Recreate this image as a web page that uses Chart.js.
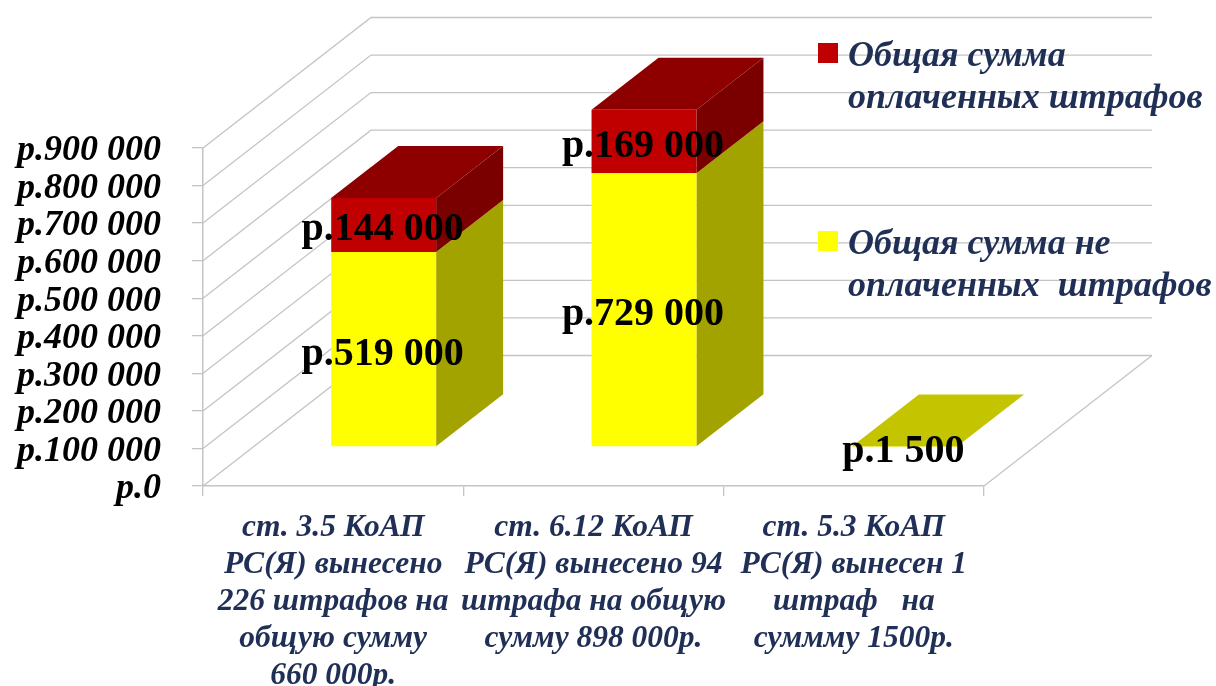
<!DOCTYPE html>
<html>
<head>
<meta charset="utf-8">
<title>Штрафы</title>
<script src="https://cdn.jsdelivr.net/npm/chart.js@4"></script>
<style>
    html, body { margin: 0; padding: 0; background: #fff; overflow: hidden; }
    #wrap { width: 1216px; height: 686px; }
</style>
</head>
<body>
<div id="wrap"><canvas id="chart" width="1216" height="686"></canvas></div>
<script>
const categories = [
    ['ст. 3.5 КоАП', 'РС(Я) вынесено', '226 штрафов на', 'общую сумму', '660 000р.'],
    ['ст. 6.12 КоАП', 'РС(Я) вынесено 94', 'штрафа на общую', 'сумму 898 000р.'],
    ['ст. 5.3 КоАП', 'РС(Я) вынесен 1', 'штраф   на', 'суммму 1500р.']
];
const unpaid = [519000, 729000, 1500];
const paid = [144000, 169000, 0];
const paidLegend = ['Общая сумма', 'оплаченных штрафов'];
const unpaidLegend = ['Общая сумма не', 'оплаченных  штрафов'];
const yTickLabels = ['р.0', 'р.100 000', 'р.200 000', 'р.300 000', 'р.400 000', 'р.500 000',
    'р.600 000', 'р.700 000', 'р.800 000', 'р.900 000'];

const SERIF = '"Liberation Serif", "Times New Roman", serif';
const NAVY = '#1f2f55';
const GRID = '#c4c4c4';

// wall depth and bar depth of the fake 3D box
const WALL = { dx: 168, dy: -130.5 };
const BAR_SHIFT = { dx: 50.5, dy: -39 };
const BAR_DEPTH = { dx: 67, dy: -52 };

function formatRub(n) {
    return 'р.' + n.toString().replace(/\B(?=(\d{3})+$)/g, ' ');
}

function poly(ctx, points, color) {
    ctx.fillStyle = color;
    ctx.beginPath();
    points.forEach((p, i) => i ? ctx.lineTo(p[0], p[1]) : ctx.moveTo(p[0], p[1]));
    ctx.closePath();
    ctx.fill();
}

function drawWalls(chart) {
    const ctx = chart.ctx;
    const area = chart.chartArea;
    const y = chart.scales.y;
    ctx.save();
    ctx.strokeStyle = GRID;
    ctx.lineWidth = 1.3;
    y.ticks.forEach(t => {
        const py = y.getPixelForValue(t.value);
        ctx.beginPath();
        ctx.moveTo(area.left, py);
        ctx.lineTo(area.left + WALL.dx, py + WALL.dy);
        ctx.lineTo(area.right + WALL.dx, py + WALL.dy);
        ctx.stroke();
    });
    ctx.beginPath();
    ctx.moveTo(area.right + WALL.dx, area.bottom + WALL.dy);
    ctx.lineTo(area.right, area.bottom);
    ctx.stroke();
    ctx.restore();
}

function drawBarSides(chart) {
    const ctx = chart.ctx;
    const stacks = chart.data.datasets.length;
    chart.data.datasets.forEach((ds, i) => {
        chart.getDatasetMeta(i).data.forEach((bar, j) => {
            if (!ds.data[j]) return;
            const right = bar.x + bar.width / 2;
            const left = bar.x - bar.width / 2;
            poly(ctx, [[right, bar.y], [right, bar.base],
                [right + BAR_DEPTH.dx, bar.base + BAR_DEPTH.dy],
                [right + BAR_DEPTH.dx, bar.y + BAR_DEPTH.dy]], ds.sideColor);
            const above = i + 1 < stacks ? chart.data.datasets[i + 1].data[j] : 0;
            if (!above) {
                poly(ctx, [[left, bar.y], [right, bar.y],
                    [right + BAR_DEPTH.dx, bar.y + BAR_DEPTH.dy],
                    [left + BAR_DEPTH.dx, bar.y + BAR_DEPTH.dy]], ds.topColor);
            }
        });
    });
}

function drawValueLabels(chart) {
    const ctx = chart.ctx;
    ctx.save();
    ctx.font = 'bold 40px ' + SERIF;
    ctx.fillStyle = '#000';
    ctx.textAlign = 'center';
    ctx.textBaseline = 'middle';
    chart.data.datasets.forEach((ds, i) => {
        chart.getDatasetMeta(i).data.forEach((bar, j) => {
            if (!ds.data[j]) return;
            ctx.fillText(formatRub(ds.data[j]), bar.x + BAR_SHIFT.dx - 1, (bar.y + bar.base) / 2 + BAR_SHIFT.dy + 5);
        });
    });
    ctx.restore();
}

function drawLegend(chart) {
    const ctx = chart.ctx;
    const items = [
        { color: '#c00000', lines: paidLegend, y: 43 },
        { color: '#ffff00', lines: unpaidLegend, y: 231 }
    ];
    ctx.save();
    ctx.font = 'italic bold 36px ' + SERIF;
    ctx.textBaseline = 'middle';
    items.forEach(item => {
        ctx.fillStyle = item.color;
        ctx.fillRect(818, item.y, 20, 20);
        ctx.fillStyle = NAVY;
        item.lines.forEach((line, k) => ctx.fillText(line, 848, item.y + 14 + k * 42));
    });
    ctx.restore();
}

const box3d = {
    id: 'box3d',
    beforeDatasetsDraw(chart) {
        drawWalls(chart);
        chart.ctx.save();
        chart.ctx.translate(BAR_SHIFT.dx, BAR_SHIFT.dy);
        drawBarSides(chart);
    },
    afterDatasetsDraw(chart) {
        chart.ctx.restore();
        drawValueLabels(chart);
        drawLegend(chart);
    }
};

new Chart(document.getElementById('chart'), {
    type: 'bar',
    data: {
        labels: categories,
        datasets: [
            { label: unpaidLegend.join(' '), data: unpaid, backgroundColor: '#ffff00', sideColor: '#a3a300', topColor: '#c4c400', clip: false },
            { label: paidLegend.join(' '), data: paid, backgroundColor: '#c00000', sideColor: '#7a0000', topColor: '#8e0000', clip: false }
        ]
    },
    options: {
        responsive: false,
        animation: false,
        layout: { padding: { top: 148, right: 232, left: 0, bottom: 0 } },
        datasets: { bar: { categoryPercentage: 1, barPercentage: 0.403 } },
        plugins: { legend: { display: false }, tooltip: { enabled: false } },
        scales: {
            x: {
                stacked: true,
                afterFit(scale) { scale.height = 200; },
                grid: { drawOnChartArea: false, color: GRID, tickLength: 10, lineWidth: 1.3 },
                border: { color: GRID, width: 1.5 },
                ticks: {
                    autoSkip: false,
                    maxRotation: 0,
                    minRotation: 0,
                    padding: 13,
                    color: NAVY,
                    font: { family: SERIF, size: 31.5, style: 'italic', weight: 'bold', lineHeight: 1.175 }
                }
            },
            y: {
                stacked: true,
                min: 0,
                max: 900000,
                afterFit(scale) { scale.width = 203; },
                grid: { drawOnChartArea: false, color: GRID, tickLength: 11, lineWidth: 1.3 },
                border: { color: GRID, width: 1.5 },
                ticks: {
                    autoSkip: false,
                    stepSize: 100000,
                    padding: 31,
                    labelOffset: 3,
                    color: '#000',
                    font: { family: SERIF, size: 36, style: 'italic', weight: 'bold' },
                    callback: (value, index) => yTickLabels[index]
                }
            }
        }
    },
    plugins: [box3d]
});
</script>
</body>
</html>
